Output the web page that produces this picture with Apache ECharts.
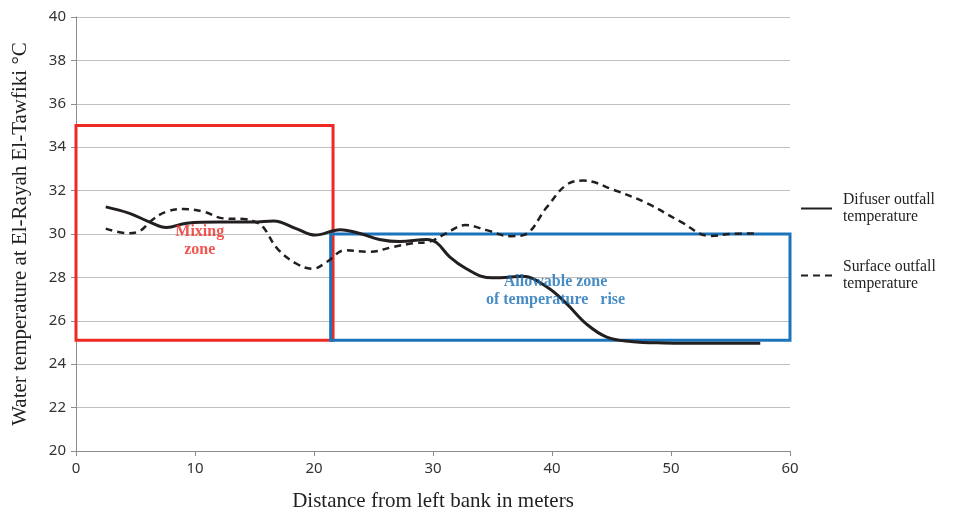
<!DOCTYPE html>
<html><head><meta charset="utf-8">
<script src="https://cdn.jsdelivr.net/npm/echarts@6/dist/echarts.min.js"></script>
<style>html,body{margin:0;padding:0;background:#fff}#c{width:955px;height:514px}</style>
</head><body><div id="c"></div>
<script>
const xTicks = [0, 10, 20, 30, 40, 50, 60];
const yTicks = [20, 22, 24, 26, 28, 30, 32, 34, 36, 38, 40];
const diffuserX = [2.5, 4.5, 6.2, 7.6, 9.3, 12, 14.9, 16.6, 18.5, 20.1, 22.2, 24, 25.5, 27.2, 29.5, 30.3, 31.4, 32.8, 34.5, 35.6, 37.5, 39.6, 41.2, 42.9, 44.6, 46.6, 49.4, 53.6, 57.5];
const diffuserY = [31.25, 30.95, 30.55, 30.3, 30.5, 30.55, 30.55, 30.6, 30.25, 29.95, 30.2, 30.0, 29.75, 29.65, 29.75, 29.6, 28.95, 28.4, 28.0, 27.98, 28.05, 27.55, 26.8, 25.85, 25.25, 25.05, 24.98, 24.96, 24.96];
const surfaceX = [2.5, 4.4, 5.4, 6.4, 7.6, 9.0, 10.7, 12.4, 14.1, 15.0, 15.7, 16.9, 18.5, 19.9, 21.1, 22.6, 24.7, 26.7, 28.3, 29.7, 31.1, 32.7, 34.5, 36.5, 37.6, 39.6, 41.2, 42.6, 45.2, 48.0, 50.8, 53.3, 55.0, 57.3];
const surfaceY = [30.25, 30.03, 30.15, 30.65, 31.03, 31.15, 31.03, 30.72, 30.69, 30.57, 30.34, 29.34, 28.64, 28.4, 28.72, 29.25, 29.18, 29.41, 29.57, 29.65, 30.03, 30.41, 30.18, 29.9, 29.95, 31.26, 32.26, 32.46, 32.03, 31.41, 30.57, 29.91, 30.0, 30.03];
const seriesNames = ['Difuser outfall\ntemperature', 'Surface outfall\ntemperature'];
// zones: [xStart, yBottom, xEnd, yTop]
const mixingZone = [0, 25.1, 21.6, 35];
const allowableZone = [21.4, 25.1, 60, 30];
const zoneLabels = ['Mixing\nzone', 'Allowable zone\nof temperature   rise'];
const zoneLabelPos = [[10.4, 29.7], [40.3, 27.4]];

const zip = (xs, ys) => xs.map((x, i) => [x, ys[i]]);
const serif = 'Liberation Serif';
const chart = echarts.init(document.getElementById('c'));
chart.setOption({
  animation: false,
  grid: { left: 76, right: 165, top: 17, bottom: 63, outerBoundsMode: 'none', containLabel: false },
  xAxis: {
    type: 'value', min: 0, max: 60, interval: 10,
    name: 'Distance from left bank in meters', nameLocation: 'middle', nameGap: 40,
    nameTextStyle: { fontFamily: serif, fontSize: 21, color: '#231f20' },
    axisLine: { lineStyle: { color: '#8c8c8c', width: 1 } },
    axisTick: { show: true, length: 5, lineStyle: { color: '#8c8c8c' } },
    axisLabel: { fontFamily: 'Liberation Sans Narrow, Noto Sans', fontSize: 15, color: '#333', margin: 10 },
    splitLine: { show: false }
  },
  yAxis: {
    type: 'value', min: 20, max: 40, interval: 2,
    name: 'Water temperature at El-Rayah El-Tawfiki \u00B0C', nameLocation: 'middle', nameGap: 45,
    nameTextStyle: { fontFamily: serif, fontSize: 21, color: '#231f20' },
    axisLine: { show: true, lineStyle: { color: '#8c8c8c', width: 1 } },
    axisTick: { show: true, length: 5, lineStyle: { color: '#8c8c8c' } },
    axisLabel: { fontFamily: 'Liberation Sans Narrow, Noto Sans', fontSize: 15, color: '#333', margin: 10 },
    splitLine: { lineStyle: { color: '#bfbfbf', width: 1 } }
  },
  legend: {
    orient: 'vertical', left: 795, top: 178, itemWidth: 31, itemHeight: 12, itemGap: 16,
    itemStyle: { opacity: 0 },
    textStyle: { fontFamily: serif, fontSize: 15.7, color: '#231f20', lineHeight: 17, padding: [17, 0, 0, 6] },
    data: seriesNames
  },
  series: [
    {
      name: seriesNames[0], type: 'line', smooth: 0.4, showSymbol: false, symbol: 'none',
      data: zip(diffuserX, diffuserY), z: 5,
      lineStyle: { color: '#231f20', width: 3 }, itemStyle: { color: '#231f20' },
      markArea: {
        silent: true,
        itemStyle: { color: 'rgba(0,0,0,0)' },
        data: [
          [{ coord: [mixingZone[0], mixingZone[3]], itemStyle: { color: 'rgba(0,0,0,0)', borderColor: '#ee2a24', borderWidth: 3 } },
           { coord: [mixingZone[2], mixingZone[1]] }],
          [{ coord: [allowableZone[0], allowableZone[3]], itemStyle: { color: 'rgba(0,0,0,0)', borderColor: '#1c75bc', borderWidth: 3 } },
           { coord: [allowableZone[2], allowableZone[1]] }]
        ]
      }
    },
    {
      name: seriesNames[1], type: 'line', smooth: 0.4, showSymbol: false, symbol: 'none',
      data: zip(surfaceX, surfaceY), z: 5,
      lineStyle: { color: '#231f20', width: 2.5, type: [7, 5] }, itemStyle: { color: '#231f20' }
    },
    {
      type: 'scatter', symbolSize: 0, silent: true, z: 6,
      data: [
        { value: zoneLabelPos[0], label: { show: true, formatter: zoneLabels[0], color: '#ee2a24' } },
        { value: zoneLabelPos[1], label: { show: true, formatter: zoneLabels[1], color: '#1a6fb5' } }
      ],
      label: { position: 'inside', fontFamily: serif, fontWeight: 'bold', fontSize: 16, lineHeight: 18, align: 'center' }
    }
  ]
});
</script></body></html>
